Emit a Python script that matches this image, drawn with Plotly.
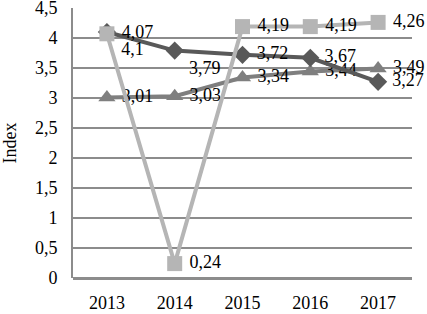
import plotly.graph_objects as go

years = ["2013", "2014", "2015", "2016", "2017"]
diamond_vals = [4.1, 3.79, 3.72, 3.67, 3.27]
triangle_vals = [3.01, 3.03, 3.34, 3.44, 3.49]
square_vals = [4.07, 0.24, 4.19, 4.19, 4.26]
y_ticks = [0, 0.5, 1, 1.5, 2, 2.5, 3, 3.5, 4, 4.5]

def lbl(v):
    return "\u00a0" + f"{v:g}".replace(".", ",")

font = dict(family="Liberation Serif, Times New Roman, serif", size=18, color="black")

fig = go.Figure()
fig.add_trace(go.Scatter(
    x=years, y=triangle_vals, mode="lines+markers+text",
    line=dict(color="#7f7f7f", width=4),
    marker=dict(symbol="triangle-up", size=15, color="#7f7f7f"),
    text=[lbl(v) for v in triangle_vals], textposition="middle right",
    textfont=font, cliponaxis=False, showlegend=False, hoverinfo="skip"))
fig.add_trace(go.Scatter(
    x=years, y=diamond_vals, mode="lines+markers+text",
    line=dict(color="#595959", width=4),
    marker=dict(symbol="diamond", size=14, color="#595959"),
    text=[lbl(v) for v in diamond_vals],
    textposition=["bottom right", "bottom right", "middle right", "middle right", "middle right"],
    textfont=font, cliponaxis=False, showlegend=False, hoverinfo="skip"))
fig.add_trace(go.Scatter(
    x=years, y=square_vals, mode="lines+markers+text",
    line=dict(color="#b5b5b5", width=4),
    marker=dict(symbol="square", size=15, color="#b5b5b5"),
    text=[lbl(v) for v in square_vals], textposition="middle right",
    textfont=font, cliponaxis=False, showlegend=False, hoverinfo="skip"))

fig.update_layout(
    width=427, height=314,
    margin=dict(l=73, r=15, t=8, b=36),
    paper_bgcolor="white", plot_bgcolor="white",
    separators=", ",
    font=font,
    xaxis=dict(type="category", range=[-0.5, 4.5], showgrid=False, automargin=False,
               showline=False, ticks="", tickfont=font, zeroline=False,
               ticklabelstandoff=12),
    yaxis=dict(range=[0, 4.5], tickvals=y_ticks, showgrid=True, gridcolor="#8c8c8c",
               gridwidth=2, showline=True, linecolor="#8c8c8c", linewidth=2,
               zeroline=True, zerolinecolor="#8c8c8c", zerolinewidth=3,
               ticks="", tickfont=font, automargin=False, ticklabelstandoff=10,
               ticklabeloverflow="allow",
               title=dict(text="Index", font=font, standoff=19)),
)
fig.write_html("out.html", config={"displayModeBar": False},
               post_script="document.body.style.margin='0px';")
